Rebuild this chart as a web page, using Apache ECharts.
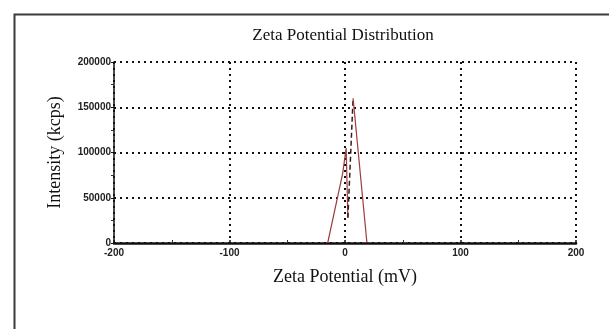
<!DOCTYPE html>
<html>
<head>
<meta charset="utf-8">
<script src="https://cdn.jsdelivr.net/npm/echarts@6/dist/echarts.min.js"></script>
<style>html,body{margin:0;padding:0;background:#fff}#c{width:609px;height:329px}</style>
</head>
<body>
<div id="c"></div>
<script>
// Data (zeta potential mV, intensity kcps)
const solidLeftX = [-15, -2, 1, 2.5];
const solidLeftY = [0, 77000, 105000, 28000];
const dashedX = [2.5, 7];
const dashedY = [28000, 160000];
const solidRightX = [7, 19];
const solidRightY = [160000, 0];
const xTicks = [-200, -100, 0, 100, 200];
const yTicks = [0, 50000, 100000, 150000, 200000];

const pair = (xs, ys) => xs.map((x, i) => [x, ys[i]]);

const chart = echarts.init(document.getElementById('c'), null, {renderer: 'canvas'});
chart.setOption({
  animation: false,
  backgroundColor: '#fff',
  title: {
    text: 'Zeta Potential Distribution',
    left: 338, top: 22, textAlign: 'center',
    textStyle: {fontFamily: 'Liberation Serif', fontWeight: 'normal', fontSize: 17, color: '#111'}
  },
  graphic: [{
    type: 'rect', left: 12, top: 12, silent: true,
    shape: {width: 620, height: 340},
    style: {fill: 'none', stroke: '#3a3a3a', lineWidth: 2}
  }],
  grid: {left: 114, right: 33, top: 62, bottom: 86},
  xAxis: {
    type: 'value', min: xTicks[0], max: xTicks[xTicks.length - 1], interval: 100,
    name: 'Zeta Potential (mV)', nameLocation: 'middle', nameGap: 25,
    nameTextStyle: {fontFamily: 'Liberation Serif', fontSize: 18, color: '#111'},
    axisLine: {onZero: false, lineStyle: {color: '#111', width: 2.5}},
    axisTick: {show: true, inside: true, length: 3, lineStyle: {color: '#111', width: 1.5}},
    minorTick: {show: true, splitNumber: 2, length: 3, lineStyle: {color: '#333'}},
    axisLabel: {fontFamily: 'Liberation Sans', fontSize: 10, fontWeight: 'bold', color: '#222', margin: 5,
      formatter: v => String(v)},
    splitLine: {show: true, lineStyle: {type: [2, 4], color: '#111', width: 2}}
  },
  yAxis: {
    type: 'value', min: yTicks[0], max: yTicks[yTicks.length - 1], interval: 50000,
    name: 'Intensity (kcps)', nameLocation: 'middle', nameGap: 50,
    nameTextStyle: {fontFamily: 'Liberation Serif', fontSize: 18, color: '#111'},
    axisLine: {show: true, onZero: false, lineStyle: {color: '#111', width: 1.5}},
    axisTick: {show: true, length: 3, lineStyle: {color: '#111'}},
    minorTick: {show: true, splitNumber: 2, length: 3, lineStyle: {color: '#333'}},
    axisLabel: {fontFamily: 'Liberation Sans', fontSize: 10, fontWeight: 'bold', color: '#222', margin: 3,
      formatter: v => String(v)},
    splitLine: {show: true, lineStyle: {type: [2, 4], color: '#111', width: 2}}
  },
  series: [
    {type: 'line', data: pair(solidLeftX, solidLeftY), symbol: 'none',
      lineStyle: {color: '#9a3c3c', width: 1.2}},
    {type: 'line', data: pair(dashedX, dashedY), symbol: 'none',
      lineStyle: {color: '#3a1a1a', width: 1.5, type: [5, 3]}},
    {type: 'line', data: pair(solidRightX, solidRightY), symbol: 'none',
      lineStyle: {color: '#9a3c3c', width: 1.2}}
  ]
});
</script>
</body>
</html>
